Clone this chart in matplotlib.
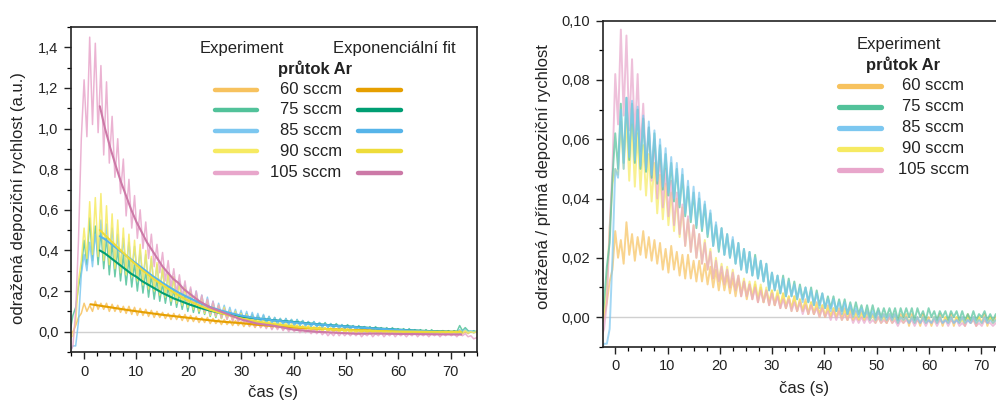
import numpy as np
import matplotlib
matplotlib.use("Agg")
import matplotlib.pyplot as plt
from matplotlib.ticker import MultipleLocator, FuncFormatter

plt.rcParams['font.family'] = ['Liberation Sans', 'DejaVu Sans']

# ---------------- data ----------------
# sampling of the measured signals (s): t = t_start + k * t_step
t_start = -2.675
t_step = 0.535
n_samples = 146

flows = ["60 sccm", "75 sccm", "85 sccm", "90 sccm", "105 sccm"]
exp_colors = ["#F7C25E", "#52C29A", "#7CC7F0", "#F6EA62", "#E8A6CB"]
fit_colors = ["#E69F00", "#009E73", "#56B4E9", "#EEDC3A", "#CC79A7"]

# left panel: reflected deposition rate (a.u.)
left_60 = [
    -0.02, 0.0, 0.03, 0.07, 0.09, 0.14, 0.10, 0.13, 0.10, 0.15,
    0.11, 0.14, 0.11, 0.14, 0.10, 0.135, 0.10, 0.13, 0.095, 0.125,
    0.09, 0.125, 0.085, 0.12, 0.08, 0.115, 0.08, 0.11, 0.075, 0.105,
    0.07, 0.10, 0.07, 0.095, 0.065, 0.09, 0.06, 0.09, 0.06, 0.085,
    0.055, 0.085, 0.05, 0.08, 0.05, 0.075, 0.045, 0.07, 0.045, 0.07,
    0.04, 0.065, 0.04, 0.06, 0.035, 0.06, 0.035, 0.055, 0.03, 0.055,
    0.03, 0.05, 0.025, 0.05, 0.025, 0.045, 0.02, 0.045, 0.02, 0.04,
    0.02, 0.04, 0.015, 0.035, 0.015, 0.035, 0.01, 0.03, 0.01, 0.03,
    0.01, 0.03, 0.005, 0.025, 0.005, 0.025, 0.005, 0.02, 0.005, 0.02,
    0.0, 0.02, 0.0, 0.015, 0.0, 0.015, 0.0, 0.015, -0.005, 0.01,
    -0.005, 0.01, -0.005, 0.01, -0.005, 0.01, -0.005, 0.005, -0.005, 0.005,
    -0.01, 0.005, -0.005, 0.005, -0.01, 0.005, -0.005, 0.005, -0.01, 0.0,
    -0.01, 0.005, -0.01, 0.0, -0.01, 0.005, -0.01, 0.0, -0.01, 0.0,
    -0.01, 0.0, -0.01, 0.005, -0.01, 0.0, -0.01, 0.0, -0.01, 0.0,
    -0.01, 0.0, -0.01, 0.0, -0.005, 0.0]
left_75 = [
    0.0, 0.08, 0.12, 0.22, 0.30, 0.45, 0.33, 0.56, 0.35, 0.52,
    0.33, 0.50, 0.31, 0.47, 0.28, 0.44, 0.27, 0.41, 0.25, 0.38,
    0.23, 0.36, 0.22, 0.34, 0.20, 0.32, 0.19, 0.30, 0.17, 0.28,
    0.16, 0.26, 0.15, 0.24, 0.14, 0.22, 0.13, 0.21, 0.12, 0.19,
    0.11, 0.18, 0.10, 0.17, 0.095, 0.155, 0.09, 0.145, 0.085, 0.135,
    0.075, 0.125, 0.07, 0.12, 0.065, 0.11, 0.065, 0.105, 0.06, 0.10,
    0.055, 0.095, 0.05, 0.09, 0.05, 0.085, 0.045, 0.08, 0.045, 0.08,
    0.04, 0.075, 0.04, 0.07, 0.035, 0.065, 0.035, 0.065, 0.035, 0.06,
    0.03, 0.06, 0.03, 0.055, 0.03, 0.05, 0.025, 0.05, 0.025, 0.045,
    0.02, 0.045, 0.02, 0.04, 0.02, 0.04, 0.015, 0.035, 0.015, 0.035,
    0.015, 0.03, 0.01, 0.03, 0.01, 0.025, 0.01, 0.025, 0.005, 0.025,
    0.005, 0.02, 0.005, 0.02, 0.0, 0.02, 0.0, 0.015, 0.0, 0.015,
    0.0, 0.015, -0.005, 0.01, -0.005, 0.01, -0.005, 0.01, -0.005, 0.01,
    -0.005, 0.005, -0.005, 0.005, -0.005, 0.005, -0.005, 0.005, 0.0, 0.03,
    0.005, 0.02, 0.005, 0.0, 0.005, 0.0]
left_85 = [
    -0.10, -0.07, -0.07, 0.05, 0.28, 0.38, 0.30, 0.44, 0.32, 0.48,
    0.38, 0.55, 0.37, 0.53, 0.36, 0.51, 0.34, 0.48, 0.31, 0.46,
    0.30, 0.44, 0.29, 0.42, 0.27, 0.40, 0.25, 0.38, 0.23, 0.36,
    0.21, 0.33, 0.20, 0.31, 0.18, 0.29, 0.17, 0.27, 0.15, 0.25,
    0.14, 0.23, 0.13, 0.21, 0.12, 0.20, 0.11, 0.18, 0.10, 0.17,
    0.09, 0.15, 0.085, 0.14, 0.08, 0.13, 0.075, 0.12, 0.07, 0.11,
    0.06, 0.105, 0.055, 0.10, 0.05, 0.095, 0.05, 0.09, 0.045, 0.085,
    0.045, 0.075, 0.04, 0.07, 0.04, 0.065, 0.035, 0.065, 0.035, 0.06,
    0.03, 0.06, 0.03, 0.055, 0.025, 0.05, 0.025, 0.05, 0.025, 0.045,
    0.02, 0.04, 0.02, 0.04, 0.015, 0.035, 0.015, 0.035, 0.015, 0.03,
    0.01, 0.03, 0.01, 0.025, 0.01, 0.025, 0.005, 0.02, 0.005, 0.02,
    0.005, 0.015, 0.0, 0.015, 0.0, 0.015, 0.0, 0.01, -0.005, 0.01,
    -0.005, 0.01, -0.005, 0.005, -0.005, 0.005, -0.01, 0.005, -0.005, 0.005,
    -0.01, 0.0, -0.005, 0.005, -0.01, 0.0, -0.005, 0.0, -0.005, 0.01,
    0.0, 0.01, -0.005, 0.005, -0.005, 0.0]
left_90 = [
    -0.03, -0.02, 0.05, 0.25, 0.35, 0.51, 0.36, 0.64, 0.38, 0.66,
    0.37, 0.68, 0.35, 0.62, 0.33, 0.58, 0.31, 0.55, 0.29, 0.51,
    0.28, 0.48, 0.27, 0.45, 0.25, 0.43, 0.23, 0.40, 0.21, 0.37,
    0.20, 0.34, 0.18, 0.32, 0.17, 0.29, 0.15, 0.27, 0.14, 0.24,
    0.13, 0.22, 0.12, 0.20, 0.11, 0.18, 0.10, 0.17, 0.09, 0.155,
    0.08, 0.14, 0.075, 0.13, 0.065, 0.12, 0.06, 0.105, 0.05, 0.10,
    0.05, 0.09, 0.045, 0.085, 0.04, 0.075, 0.035, 0.07, 0.03, 0.065,
    0.025, 0.055, 0.025, 0.05, 0.02, 0.045, 0.015, 0.045, 0.015, 0.04,
    0.01, 0.035, 0.01, 0.03, 0.005, 0.03, 0.005, 0.025, 0.005, 0.025,
    0.0, 0.02, 0.0, 0.02, 0.0, 0.015, -0.005, 0.015, -0.005, 0.015,
    -0.005, 0.01, -0.005, 0.01, -0.005, 0.01, -0.005, 0.01, -0.01, 0.005,
    -0.01, 0.005, -0.01, 0.005, -0.01, 0.005, -0.01, 0.005, -0.01, 0.0,
    -0.01, 0.005, -0.01, 0.0, -0.01, 0.005, -0.01, 0.0, -0.01, 0.005,
    -0.01, 0.0, -0.01, 0.005, -0.01, 0.0, -0.01, 0.0, -0.01, 0.005,
    -0.005, 0.005, -0.005, 0.0, -0.005, 0.0]
left_105 = [
    -0.10, -0.07, 0.10, 0.45, 0.95, 1.24, 0.96, 1.45, 1.02, 1.42,
    0.98, 1.31, 0.87, 1.23, 0.83, 1.06, 0.76, 0.95, 0.68, 0.85,
    0.57, 0.75, 0.51, 0.67, 0.46, 0.60, 0.41, 0.54, 0.36, 0.48,
    0.32, 0.43, 0.29, 0.39, 0.25, 0.35, 0.22, 0.31, 0.19, 0.28,
    0.17, 0.25, 0.15, 0.22, 0.13, 0.20, 0.12, 0.18, 0.10, 0.16,
    0.09, 0.15, 0.08, 0.13, 0.07, 0.11, 0.06, 0.10, 0.05, 0.09,
    0.045, 0.08, 0.04, 0.07, 0.03, 0.06, 0.025, 0.05, 0.02, 0.045,
    0.015, 0.04, 0.01, 0.035, 0.01, 0.03, 0.005, 0.025, 0.0, 0.02,
    0.0, 0.02, -0.005, 0.015, -0.005, 0.01, -0.01, 0.01, -0.01, 0.005,
    -0.015, 0.0, -0.02, -0.005, -0.02, 0.0, -0.02, -0.005, -0.02, -0.005,
    -0.02, -0.005, -0.02, -0.005, -0.025, -0.01, -0.02, -0.005, -0.025, -0.01,
    -0.02, -0.005, -0.025, -0.01, -0.02, -0.005, -0.025, -0.01, -0.02, -0.01,
    -0.025, -0.01, -0.02, -0.005, -0.025, -0.01, -0.02, -0.01, -0.025, -0.01,
    -0.02, -0.01, -0.025, -0.01, -0.02, -0.005, -0.02, -0.01, -0.025, -0.01,
    -0.02, -0.01, -0.025, -0.02, -0.035, -0.03]

# exponential fits (left panel)
fit_t = [3, 4, 5, 6, 7, 8, 9, 10, 11, 12, 13, 14, 15, 16, 17, 18, 19, 20,
         22, 24, 26, 28, 30, 33, 36, 40, 44, 48, 52, 56, 60, 64, 68, 72]
fit_75 = [0.40, 0.385, 0.365, 0.345, 0.325, 0.305, 0.285, 0.27, 0.25, 0.235,
          0.22, 0.205, 0.19, 0.178, 0.165, 0.155, 0.145, 0.135,
          0.118, 0.104, 0.092, 0.082, 0.074, 0.065, 0.057, 0.048, 0.038,
          0.03, 0.023, 0.016, 0.01, 0.005, 0.001, -0.002]
fit_85 = [0.47, 0.455, 0.435, 0.415, 0.395, 0.375, 0.355, 0.335, 0.315, 0.295,
          0.275, 0.258, 0.24, 0.224, 0.208, 0.193, 0.18, 0.167,
          0.143, 0.122, 0.105, 0.091, 0.079, 0.066, 0.056, 0.046, 0.037,
          0.029, 0.022, 0.015, 0.009, 0.004, 0.0, -0.003]
fit_90 = [0.50, 0.475, 0.45, 0.425, 0.40, 0.375, 0.35, 0.328, 0.305, 0.285,
          0.265, 0.247, 0.23, 0.212, 0.195, 0.18, 0.165, 0.152,
          0.128, 0.108, 0.092, 0.078, 0.065, 0.05, 0.038, 0.026, 0.017,
          0.01, 0.006, 0.003, 0.001, 0.0, -0.001, -0.002]
fit_105 = [1.11, 1.00, 0.905, 0.82, 0.74, 0.67, 0.60, 0.54, 0.49, 0.44,
           0.40, 0.36, 0.32, 0.29, 0.26, 0.24, 0.21, 0.19,
           0.15, 0.12, 0.10, 0.08, 0.06, 0.04, 0.03, 0.01, 0.0,
           -0.005, -0.01, -0.009, -0.011, -0.012, -0.013, -0.014]
fit60_t = [1.2, 3, 5, 7, 9, 11, 13, 15, 17, 19, 21, 23, 25, 27, 30, 33, 36,
           40, 44, 48, 52, 56, 60, 64, 68, 72]
fit_60 = [0.135, 0.128, 0.12, 0.112, 0.104, 0.097, 0.09, 0.083, 0.077, 0.071,
          0.065, 0.059, 0.053, 0.048, 0.042, 0.034, 0.028, 0.021, 0.016,
          0.011, 0.008, 0.005, 0.003, 0.001, 0.0, -0.001]

# right panel: reflected / direct deposition rate
right_60 = [
    -0.003, 0.0, 0.005, 0.012, 0.016, 0.029, 0.02, 0.026, 0.018, 0.032,
    0.021, 0.028, 0.019, 0.027, 0.021, 0.029, 0.02, 0.027, 0.019, 0.026,
    0.018, 0.025, 0.016, 0.023, 0.015, 0.024, 0.016, 0.022, 0.014, 0.021,
    0.013, 0.021, 0.013, 0.019, 0.012, 0.019, 0.012, 0.018, 0.011, 0.017,
    0.01, 0.016, 0.009, 0.015, 0.009, 0.014, 0.008, 0.013, 0.007, 0.013,
    0.007, 0.012, 0.006, 0.011, 0.006, 0.011, 0.005, 0.01, 0.005, 0.009,
    0.004, 0.009, 0.004, 0.008, 0.003, 0.008, 0.003, 0.007, 0.003, 0.007,
    0.002, 0.006, 0.002, 0.006, 0.001, 0.005, 0.001, 0.005, 0.001, 0.004,
    0.0, 0.004, 0.0, 0.003, 0.0, 0.003, 0.0, 0.003, -0.001, 0.003,
    -0.001, 0.002, -0.001, 0.002, -0.001, 0.002, -0.001, 0.001, -0.001, 0.002,
    -0.001, 0.001, -0.002, 0.001, -0.001, 0.001, -0.002, 0.001, -0.001, 0.001,
    -0.003, 0.001, -0.002, 0.0, -0.003, 0.001, -0.002, 0.0, -0.003, 0.0,
    -0.002, 0.001, -0.003, 0.0, -0.002, 0.001, -0.003, 0.0, -0.002, 0.0,
    -0.003, 0.001, -0.002, 0.0, -0.003, 0.0, -0.002, 0.001, -0.003, 0.0,
    -0.002, 0.0, -0.003, 0.0, -0.002, 0.0]
right_75 = [
    -0.004, 0.005, 0.017, 0.025, 0.047, 0.062, 0.05, 0.072, 0.052, 0.074,
    0.053, 0.072, 0.052, 0.07, 0.05, 0.067, 0.049, 0.064, 0.047, 0.062,
    0.045, 0.058, 0.043, 0.055, 0.041, 0.052, 0.039, 0.05, 0.037, 0.048,
    0.034, 0.044, 0.032, 0.042, 0.03, 0.04, 0.029, 0.038, 0.027, 0.035,
    0.024, 0.031, 0.022, 0.03, 0.021, 0.028, 0.02, 0.026, 0.018, 0.025,
    0.016, 0.023, 0.015, 0.022, 0.014, 0.021, 0.013, 0.019, 0.012, 0.018,
    0.009, 0.015, 0.009, 0.014, 0.008, 0.014, 0.007, 0.013, 0.007, 0.012,
    0.006, 0.011, 0.006, 0.01, 0.005, 0.01, 0.004, 0.009, 0.004, 0.008,
    0.003, 0.007, 0.003, 0.007, 0.002, 0.006, 0.002, 0.006, 0.001, 0.005,
    0.001, 0.005, 0.001, 0.004, 0.0, 0.004, 0.0, 0.004, 0.0, 0.003,
    0.0, 0.003, 0.0, 0.003, 0.0, 0.003, -0.001, 0.003, 0.0, 0.003,
    0.0, 0.003, -0.001, 0.003, 0.0, 0.002, -0.001, 0.003, 0.0, 0.002,
    -0.001, 0.002, 0.0, 0.002, -0.001, 0.002, 0.0, 0.002, -0.001, 0.002,
    -0.001, 0.001, -0.001, 0.002, -0.001, 0.001, 0.0, 0.002, -0.001, 0.001,
    -0.001, 0.001, 0.0, 0.001, 0.0, 0.001]
right_85 = [
    -0.011, -0.009, -0.009, -0.004, 0.02, 0.05, 0.047, 0.07, 0.05, 0.074,
    0.054, 0.073, 0.053, 0.071, 0.051, 0.068, 0.05, 0.066, 0.048, 0.063,
    0.046, 0.06, 0.044, 0.057, 0.042, 0.054, 0.04, 0.052, 0.038, 0.05,
    0.035, 0.046, 0.033, 0.044, 0.031, 0.042, 0.03, 0.039, 0.028, 0.036,
    0.024, 0.032, 0.023, 0.03, 0.021, 0.028, 0.02, 0.027, 0.018, 0.025,
    0.016, 0.023, 0.015, 0.022, 0.014, 0.02, 0.013, 0.019, 0.012, 0.018,
    0.009, 0.015, 0.009, 0.014, 0.008, 0.013, 0.007, 0.012, 0.007, 0.011,
    0.006, 0.01, 0.005, 0.01, 0.005, 0.009, 0.004, 0.008, 0.003, 0.008,
    0.003, 0.006, 0.002, 0.006, 0.002, 0.005, 0.001, 0.005, 0.001, 0.004,
    0.0, 0.003, 0.0, 0.003, 0.0, 0.002, -0.001, 0.002, -0.001, 0.002,
    -0.001, 0.001, -0.001, 0.001, -0.001, 0.001, -0.002, 0.0, -0.001, 0.0,
    -0.002, 0.0, -0.002, 0.0, -0.002, 0.0, -0.002, -0.001, -0.002, 0.0,
    -0.002, 0.0, -0.002, -0.001, -0.002, 0.0, -0.002, -0.001, -0.002, 0.0,
    -0.002, -0.001, -0.002, 0.0, -0.002, -0.001, -0.002, 0.0, -0.002, -0.001,
    -0.002, -0.001, -0.002, -0.001, -0.002, -0.001]
right_90 = [
    -0.003, 0.002, 0.01, 0.03, 0.045, 0.05, 0.048, 0.066, 0.05, 0.067,
    0.046, 0.065, 0.044, 0.062, 0.043, 0.058, 0.041, 0.055, 0.039, 0.052,
    0.035, 0.048, 0.033, 0.045, 0.031, 0.042, 0.029, 0.04, 0.027, 0.037,
    0.024, 0.033, 0.022, 0.031, 0.02, 0.028, 0.018, 0.026, 0.016, 0.023,
    0.013, 0.02, 0.012, 0.018, 0.011, 0.017, 0.01, 0.016, 0.009, 0.014,
    0.008, 0.013, 0.007, 0.012, 0.007, 0.012, 0.006, 0.011, 0.005, 0.01,
    0.005, 0.009, 0.004, 0.009, 0.004, 0.008, 0.003, 0.007, 0.002, 0.007,
    0.002, 0.006, 0.002, 0.005, 0.001, 0.005, 0.001, 0.004, 0.0, 0.004,
    0.0, 0.003, 0.0, 0.003, 0.0, 0.002, -0.001, 0.002, -0.001, 0.002,
    -0.001, 0.001, -0.001, 0.001, -0.001, 0.001, -0.001, 0.001, -0.002, 0.0,
    -0.002, 0.0, -0.002, 0.0, -0.002, 0.0, -0.002, 0.0, -0.002, 0.0,
    -0.002, 0.0, -0.002, -0.001, -0.002, 0.0, -0.002, -0.001, -0.002, 0.0,
    -0.002, -0.001, -0.002, 0.0, -0.002, -0.001, -0.002, 0.0, -0.002, -0.001,
    -0.002, 0.0, -0.002, -0.001, -0.002, 0.0, -0.002, -0.001, -0.002, 0.0,
    -0.002, -0.001, -0.002, 0.0, -0.002, -0.001]
right_105 = [
    -0.007, -0.004, 0.005, 0.03, 0.05, 0.082, 0.065, 0.097, 0.068, 0.095,
    0.063, 0.087, 0.06, 0.082, 0.056, 0.072, 0.05, 0.064, 0.046, 0.06,
    0.04, 0.055, 0.037, 0.05, 0.034, 0.046, 0.031, 0.042, 0.028, 0.038,
    0.024, 0.034, 0.022, 0.031, 0.02, 0.028, 0.018, 0.025, 0.016, 0.022,
    0.013, 0.019, 0.012, 0.017, 0.011, 0.016, 0.01, 0.015, 0.009, 0.014,
    0.007, 0.012, 0.007, 0.011, 0.006, 0.01, 0.005, 0.009, 0.005, 0.009,
    0.004, 0.008, 0.004, 0.007, 0.003, 0.006, 0.003, 0.006, 0.002, 0.005,
    0.002, 0.005, 0.001, 0.004, 0.001, 0.004, 0.001, 0.003, 0.0, 0.003,
    0.0, 0.002, -0.001, 0.002, -0.001, 0.002, -0.001, 0.001, -0.001, 0.001,
    -0.002, 0.0, -0.002, 0.0, -0.002, 0.0, -0.002, -0.001, -0.002, 0.0,
    -0.002, -0.001, -0.002, 0.0, -0.002, -0.001, -0.003, -0.001, -0.002, -0.001,
    -0.002, -0.001, -0.003, -0.001, -0.002, -0.001, -0.003, -0.001, -0.002, -0.001,
    -0.003, -0.001, -0.002, -0.001, -0.003, -0.001, -0.002, -0.001, -0.003, -0.002,
    -0.003, -0.001, -0.002, -0.001, -0.003, -0.002, -0.003, -0.001, -0.002, -0.002,
    -0.003, -0.002, -0.003, -0.002, -0.003, -0.002]

left_exp = [left_60, left_75, left_85, left_90, left_105]
right_exp = [right_60, right_75, right_85, right_90, right_105]
left_fit_t = [fit60_t, fit_t, fit_t, fit_t, fit_t]
left_fit = [fit_60, fit_75, fit_85, fit_90, fit_105]

t = t_start + t_step * np.arange(n_samples)

# ---------------- figure ----------------
W, H = 996, 401
fig = plt.figure(figsize=(W / 100, H / 100), dpi=100)

def px_axes(x0, y0, x1, y1):
    return fig.add_axes([x0 / W, 1 - y1 / H, (x1 - x0) / W, (y1 - y0) / H])

ax1 = px_axes(71, 27, 477, 352)
ax2 = px_axes(602.7, 20.7, 1007.5, 346.7)

def comma_fmt(dec):
    def f(v, p):
        if abs(v) < 1e-12:
            v = 0.0
        return f"{v:.{dec}f}".replace('.', ',')
    return FuncFormatter(f)

for ax in (ax1, ax2):
    ax.axhline(0, color="#d0d0d0", lw=1.0, zorder=1)
    ax.xaxis.set_major_locator(MultipleLocator(10))
    ax.xaxis.set_minor_locator(MultipleLocator(2.5))
    ax.xaxis.set_major_formatter(FuncFormatter(lambda v, p: f"{v:.0f}"))
    ax.tick_params(which='major', direction='out', length=5, width=1.0,
                   labelsize=10.5, pad=4, colors="#222222")
    ax.tick_params(which='minor', direction='out', length=3, width=0.9)
    for s in ax.spines.values():
        s.set_linewidth(1.2)
        s.set_color("#222222")

# left panel
ax1.set_xlim(-2.5, 75)
ax1.set_ylim(-0.1, 1.5)
ax1.yaxis.set_major_locator(MultipleLocator(0.2))
ax1.yaxis.set_minor_locator(MultipleLocator(0.1))
ax1.yaxis.set_major_formatter(comma_fmt(1))
for vals, c in zip(left_exp, exp_colors):
    ax1.plot(t, vals, color=c, lw=1.1, alpha=0.85, zorder=2)
for ft, fv, c in zip(left_fit_t, left_fit, fit_colors):
    ax1.plot(ft, fv, color=c, lw=1.5, zorder=3, solid_capstyle='round')

# right panel
ax2.set_xlim(-2.4, 75)
ax2.set_ylim(-0.01, 0.10)
ax2.yaxis.set_major_locator(MultipleLocator(0.02))
ax2.yaxis.set_minor_locator(MultipleLocator(0.01))
ax2.yaxis.set_major_formatter(comma_fmt(2))
for i in [0, 3, 4, 1, 2]:
    ax2.plot(t, right_exp[i], color=exp_colors[i], lw=1.4, alpha=0.7, zorder=2)

# ---------------- legends (drawn by hand) ----------------
def fx(ax, px):
    b = ax.get_position()
    return (px / W - b.x0) / b.width

def fy(ax, py):
    b = ax.get_position()
    return ((1 - py / H) - b.y0) / b.height

txt = dict(fontsize=12, color="#222222", va='center')
leg_rows_l = [90, 110, 130.7, 151.3, 172.7]
ax1.text(fx(ax1, 200), fy(ax1, 48), "Experiment", ha='left', transform=ax1.transAxes, **txt)
ax1.text(fx(ax1, 332.7), fy(ax1, 48), "Exponenciální fit", ha='left', transform=ax1.transAxes, **txt)
ax1.text(fx(ax1, 278), fy(ax1, 69), "průtok Ar", ha='left', fontweight='bold', transform=ax1.transAxes, **txt)
for i, yy in enumerate(leg_rows_l):
    ax1.plot([fx(ax1, 215), fx(ax1, 256.7)], [fy(ax1, yy)] * 2, transform=ax1.transAxes,
             color=exp_colors[i], lw=3.2, solid_capstyle='round', clip_on=False)
    ax1.text(fx(ax1, 341.7), fy(ax1, yy), flows[i], ha='right', transform=ax1.transAxes, **txt)
    ax1.plot([fx(ax1, 358), fx(ax1, 400.7)], [fy(ax1, yy)] * 2, transform=ax1.transAxes,
             color=fit_colors[i], lw=3.2, solid_capstyle='round', clip_on=False)

leg_rows_r = [86, 106.7, 127.7, 148.7, 170]
ax2.text(fx(ax2, 940.5), fy(ax2, 44), "Experiment", ha='right', transform=ax2.transAxes, **txt)
ax2.text(fx(ax2, 940.5), fy(ax2, 65), "průtok Ar", ha='right', fontweight='bold', transform=ax2.transAxes, **txt)
for i, yy in enumerate(leg_rows_r):
    ax2.plot([fx(ax2, 839.3), fx(ax2, 880.7)], [fy(ax2, yy)] * 2, transform=ax2.transAxes,
             color=exp_colors[i], lw=3.8, solid_capstyle='round', clip_on=False)
    ax2.text(fx(ax2, 933.5), fy(ax2, yy), flows[i], ha='center', transform=ax2.transAxes, **txt)

# axis labels
lab = dict(fontsize=12, color="#222222", ha='center', va='center')
fig.text(18.3 / W, 1 - 198.4 / H, "odražená depoziční rychlost (a.u.)", rotation=90, **lab)
fig.text(543 / W, 1 - 176.5 / H, "odražená / přímá depoziční rychlost", rotation=90, **lab)
fig.text(273 / W, 1 - 392 / H, "čas (s)", **lab)
fig.text(804 / W, 1 - 388 / H, "čas (s)", **lab)

fig.savefig("out.png", dpi=100)
